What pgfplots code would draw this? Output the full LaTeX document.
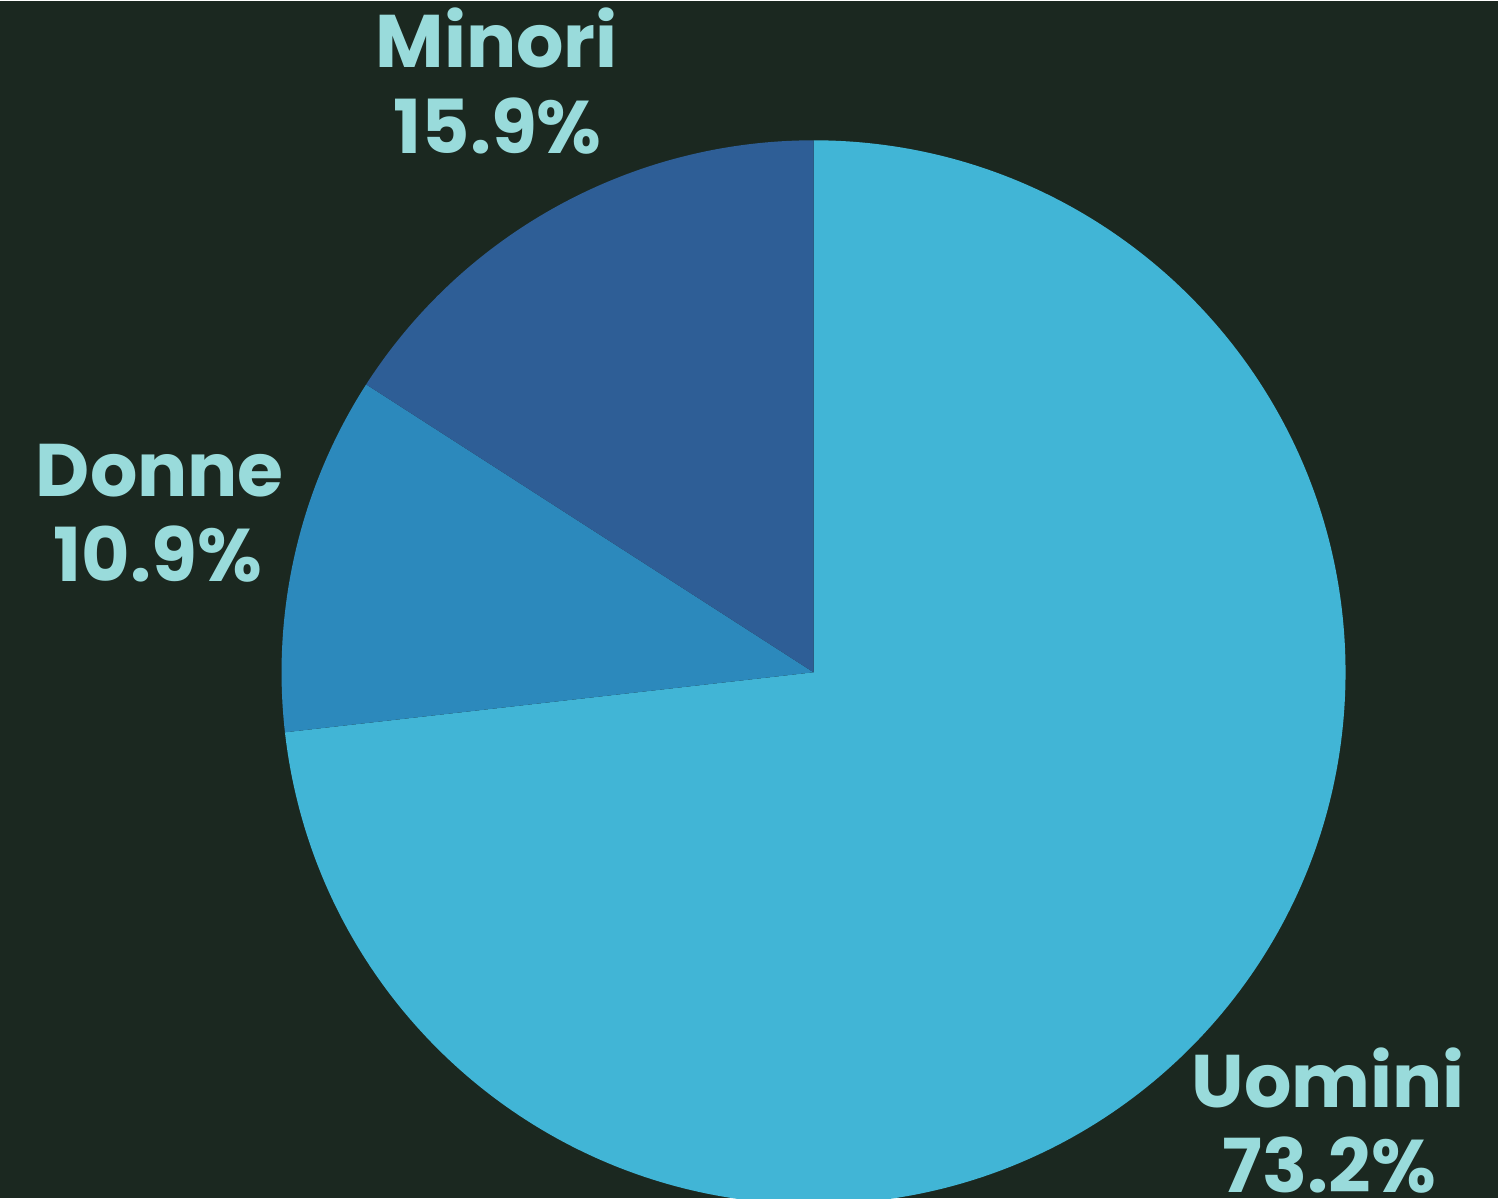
\documentclass[border=0pt]{standalone}
\usepackage{pgfplots}
\pgfplotsset{compat=1.18}
\usepackage{pgfplotstable}
\usepackage{fontspec}
\setmainfont{Poppins}
\definecolor{bg}{HTML}{1B2820}
\definecolor{cU}{HTML}{41B5D6}
\definecolor{cD}{HTML}{2C89BC}
\definecolor{cM}{HTML}{2E5E96}
\definecolor{txt}{HTML}{99DBDB}
\pgfplotstableread{
label value
Uomini 73.2
Donne 10.9
Minori 15.9
}\piedata
\begin{document}
\begin{tikzpicture}
\path[use as bounding box] (0,0) rectangle (14.99cm,11.98cm);
\pgfplotstablegetelem{0}{value}\of\piedata \let\vA\pgfplotsretval
\pgfplotstablegetelem{1}{value}\of\piedata \let\vB\pgfplotsretval
\pgfplotstablegetelem{2}{value}\of\piedata \let\vC\pgfplotsretval
\pgfmathsetmacro{\aA}{90}
\pgfmathsetmacro{\aB}{\aA-3.6*\vA}
\pgfmathsetmacro{\aC}{\aB-3.6*\vB}
\pgfmathsetmacro{\aD}{\aC-3.6*\vC}
\begin{axis}[x=0.01cm, y=0.01cm, xmin=0, xmax=1499, ymin=0, ymax=1198,
  hide axis, at={(0,0)}, anchor=south west, clip=true]
\fill[bg] (axis cs:0,0) rectangle (axis cs:1499,1198);
\fill[cU] (axis cs:814,526) -- ++(\aA:5.32cm) arc[start angle=\aA, end angle=\aB, radius=5.32cm] -- cycle;
\fill[cD] (axis cs:814,526) -- ++(\aB:5.32cm) arc[start angle=\aB, end angle=\aC, radius=5.32cm] -- cycle;
\fill[cM] (axis cs:814,526) -- ++(\aC:5.32cm) arc[start angle=\aC, end angle=\aD, radius=5.32cm] -- cycle;
\begin{scope}[every node/.style={inner sep=0pt, anchor=base, text=txt, font=\fontsize{21.2pt}{24pt}\selectfont\bfseries}]
\node at (axis cs:497,1131) {Minori};
\node at (axis cs:498,1045) {15.9\%};
\node at (axis cs:160,702) {Donne};
\node at (axis cs:158,617) {10.9\%};
\node at (axis cs:1329,91) {Uomini};
\node at (axis cs:1330,6) {73.2\%};
\end{scope}
\end{axis}
\end{tikzpicture}
\end{document}
